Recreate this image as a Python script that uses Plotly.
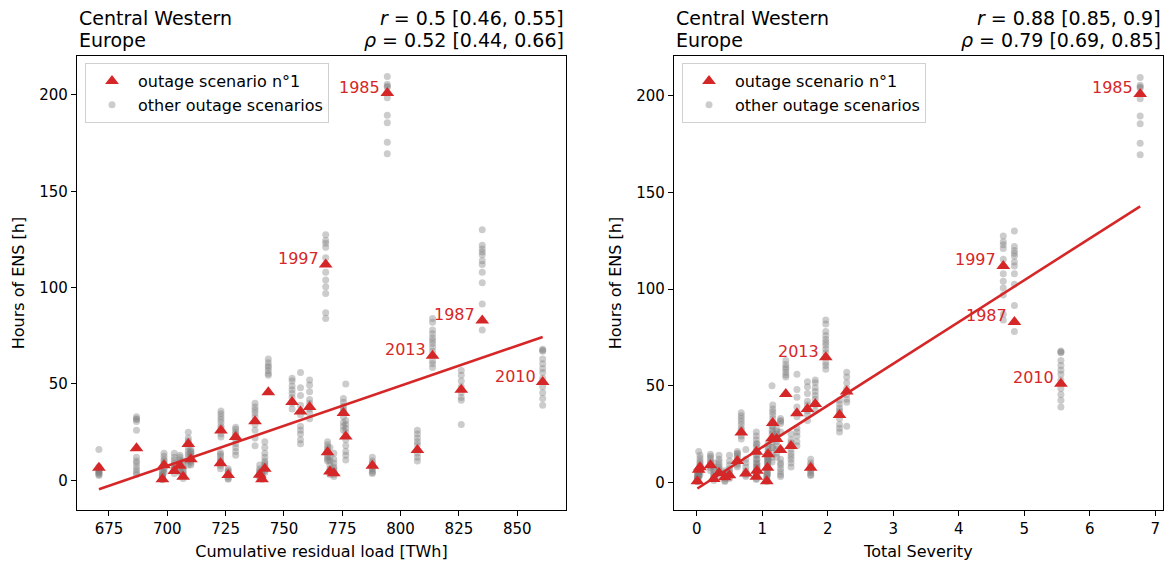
import numpy as np
import plotly.graph_objects as go

# ---------------- data ----------------
year_label = ["", "", "", "", "", "", "", "", "", "", "", "", "", "", "", "", "",
              "", "", "", "", "1997", "", "", "", "", "", "", "1985", "", "2013", "", "1987", "2010"]
load_twh = [670.7, 686.8, 697.9, 698.6, 703.0, 705.4, 706.8, 709.0, 710.1, 723.0,
            722.8, 726.1, 729.3, 737.6, 739.6, 740.6, 741.8, 743.3, 753.5, 757.1,
            761.0, 767.9, 768.7, 769.7, 771.4, 775.5, 776.5, 787.9, 794.3, 807.2,
            813.7, 826.0, 835.0, 860.9]
severity = [0.03, 1.28, 0.01, 0.05, 0.34, 1.08, 0.26, 1.44, 0.62, 0.68,
            0.21, 0.43, 1.22, 1.16, 0.91, 1.07, 0.92, 1.36, 1.81, 1.53,
            1.69, 4.68, 1.09, 0.75, 0.50, 2.18, 1.15, 1.74, 6.77, 0.91,
            1.97, 2.29, 4.85, 5.56]
ens_scen1 = [6.5, 16.7, 0.6, 7.8, 4.9, 7.5, 1.8, 18.8, 11.0, 25.8,
             8.9, 2.7, 22.5, 30.7, 2.9, 0.6, 6.0, 45.7, 40.6, 35.7,
             38.0, 112.0, 14.6, 4.6, 3.7, 34.9, 22.8, 7.5, 201.0, 15.8,
             64.7, 47.0, 83.0, 51.0]
ens_others = [
    [16, 7, 6, 5.5, 5, 4.5, 4, 3.5, 3, 2.5],
    [33, 32, 31.5, 30.5, 26, 12, 10, 9, 7, 5.5, 4, 3],
    [5, 4, 3, 2.5, 2, 1.5, 1, 0.5, 0.3],
    [14, 12.5, 11, 10, 9, 8.5, 6.5, 5.5, 4],
    [14, 12, 10.5, 9, 8, 7, 6, 5.5, 3.5],
    [13, 12, 10.5, 9.5, 8.5, 6.5, 5, 4],
    [10, 8, 6.5, 5, 4, 3, 2.5, 1],
    [25, 22, 20.5, 19.5, 17, 15, 13.5, 12, 10, 8],
    [16, 15, 14.5, 13.5, 12.5, 10, 9, 8],
    [36, 34.5, 33, 31.5, 30, 28, 27, 24, 22.5],
    [14.5, 13.5, 12.5, 11, 10, 9.5, 7.5, 6],
    [6, 5, 4.5, 3.5, 2, 1, 0.5],
    [27.5, 26.5, 25, 24, 23, 21, 19, 17, 15, 13],
    [40, 38, 36.5, 35, 33, 29, 26, 22, 18],
    [8, 6, 5, 4, 3.5, 2, 1.5],
    [5, 4, 3, 2, 1.5, 1, 0.5],
    [20, 17, 14, 12, 10, 9, 8, 7, 5, 4],
    [63, 61, 59.5, 58.5, 57, 55.5, 54.5],
    [53, 51.5, 49, 47, 45, 43, 40, 37],
    [56, 48, 44, 39, 34, 28, 26, 24, 21, 19],
    [52, 49.5, 46, 42, 40, 37, 35, 32],
    [127.5, 124.5, 123, 121, 115.5, 108, 104, 100.5, 97, 87, 84],
    [20, 18.5, 17, 16, 15, 13, 12, 11, 10],
    [17, 12, 10, 8, 6, 5, 4, 3],
    [14, 11, 9, 7, 6, 5, 3, 2],
    [42.5, 40.5, 38.5, 37, 36, 33, 30, 28, 26],
    [50, 31, 29, 27, 25, 21, 18, 15, 13, 10.5],
    [12, 10, 9, 8, 7, 6, 5, 4, 3.5],
    [209.5, 205.5, 204.5, 204, 198.5, 189.5, 185.5, 175.5, 169.5],
    [26, 24, 22, 20, 18.5, 14, 12, 10],
    [84, 82, 78, 76, 74, 72.5, 71, 69, 67, 62, 60.5, 58.5],
    [57, 54.5, 51.5, 48.5, 45.5, 43, 41.5, 29],
    [130, 122, 120, 118.5, 117, 114, 112, 108, 102.5, 91.5, 78],
    [68, 67.5, 67, 63, 60.5, 58, 56, 53, 48.5, 45.5, 42.5, 39],
]
# linear fits (slope, intercept)
fit_left = (0.4153, -283.15)
fit_right = (21.6, -3.4)

region_title = ["Central Western", "Europe"]
stats_left = ["<i>r</i> = 0.5 [0.46, 0.55]", "<i>ρ</i> = 0.52 [0.44, 0.66]"]
stats_right = ["<i>r</i> = 0.88 [0.85, 0.9]", "<i>ρ</i> = 0.79 [0.69, 0.85]"]
x_titles = ["Cumulative residual load [TWh]", "Total Severity"]
y_title = "Hours of ENS [h]"

RED = "#d62728"
FONT = "DejaVu Sans"
W, H = 1169, 563

fig = go.Figure()


def add_panel(xvals, fit, xa, ya, legend_name):
    gx, gy = [], []
    for xv, oth in zip(xvals, ens_others):
        gx += [xv] * len(oth)
        gy += list(oth)
    # grey points
    fig.add_trace(go.Scatter(
        x=gx, y=gy, mode="markers", xaxis=xa, yaxis=ya,
        marker=dict(color="grey", size=7, opacity=0.4, line=dict(width=0)),
        name="other outage scenarios", legend=legend_name, legendrank=2,
        showlegend=True))
    # regression line
    k, b = fit
    lx = np.array([min(xvals), max(xvals)])
    fig.add_trace(go.Scatter(
        x=lx, y=k * lx + b, mode="lines", xaxis=xa, yaxis=ya,
        line=dict(color=RED, width=2.6), showlegend=False, hoverinfo="skip"))
    # scenario 1
    fig.add_trace(go.Scatter(
        x=xvals, y=ens_scen1, mode="markers", xaxis=xa, yaxis=ya,
        marker=dict(color=RED, size=12, symbol="triangle-up", line=dict(width=0)),
        name="outage scenario n°1", legend=legend_name, legendrank=1))
    for xv, yv, lab in zip(xvals, ens_scen1, year_label):
        if lab:
            fig.add_annotation(x=xv, y=yv, xref=xa, yref=ya, text=lab,
                               showarrow=False, xanchor="right", yanchor="middle",
                               xshift=-5, yshift=6,
                               font=dict(color=RED, size=16, family=FONT))


add_panel(load_twh, fit_left, "x", "y", "legend")
add_panel(severity, fit_right, "x2", "y2", "legend2")

axis_common = dict(showline=True, linecolor="black", linewidth=1.2, mirror=True,
                   ticks="outside", ticklen=5, tickwidth=1.2, tickcolor="black",
                   showgrid=False, zeroline=False,
                   tickfont=dict(size=15, family=FONT, color="black"))
ydom = [1 - 510 / H, 1 - 56 / H]
leg_common = dict(yanchor="top", xanchor="left", bgcolor="white",
                  bordercolor="#d0d0d0", borderwidth=1,
                  font=dict(size=16, family=FONT), tracegroupgap=0, itemwidth=42)
fig.update_layout(
    width=W, height=H, margin=dict(l=0, r=0, t=0, b=0),
    paper_bgcolor="white", plot_bgcolor="white",
    font=dict(family=FONT, color="black"),
    xaxis=dict(domain=[77 / W, 566 / W], range=[661.3, 870.9],
               tickvals=[675, 700, 725, 750, 775, 800, 825, 850],
               title=dict(text=x_titles[0], font=dict(size=16, family=FONT), standoff=8),
               **axis_common),
    yaxis=dict(domain=ydom, range=[-15.4, 220.2], tickvals=[0, 50, 100, 150, 200],
               title=dict(text=y_title, font=dict(size=16, family=FONT), standoff=10),
               **axis_common),
    xaxis2=dict(domain=[674 / W, 1162.7 / W], range=[-0.347, 7.114], anchor="y2",
                tickvals=[0, 1, 2, 3, 4, 5, 6, 7],
                title=dict(text=x_titles[1], font=dict(size=16, family=FONT), standoff=8),
                **axis_common),
    yaxis2=dict(domain=ydom, range=[-14.3, 220.6], anchor="x2",
                tickvals=[0, 50, 100, 150, 200],
                title=dict(text=y_title, font=dict(size=16, family=FONT), standoff=10),
                **axis_common),
    legend=dict(x=85 / W, y=1 - 63 / H, **leg_common),
    legend2=dict(x=682 / W, y=1 - 63 / H, **leg_common),
)

# titles above each panel
for (xl, xr), stats in [((77, 566), stats_left), ((674, 1163), stats_right)]:
    for i, yc in enumerate([18, 40]):
        fig.add_annotation(x=xl / W, y=1 - yc / H, xref="paper", yref="paper",
                           text=region_title[i], showarrow=False,
                           xanchor="left", yanchor="middle",
                           font=dict(size=19, family=FONT, color="black"))
        fig.add_annotation(x=xr / W, y=1 - yc / H, xref="paper", yref="paper",
                           text=stats[i], showarrow=False,
                           xanchor="right", yanchor="middle",
                           font=dict(size=19, family=FONT, color="black"))

fig.write_html("out.html")
